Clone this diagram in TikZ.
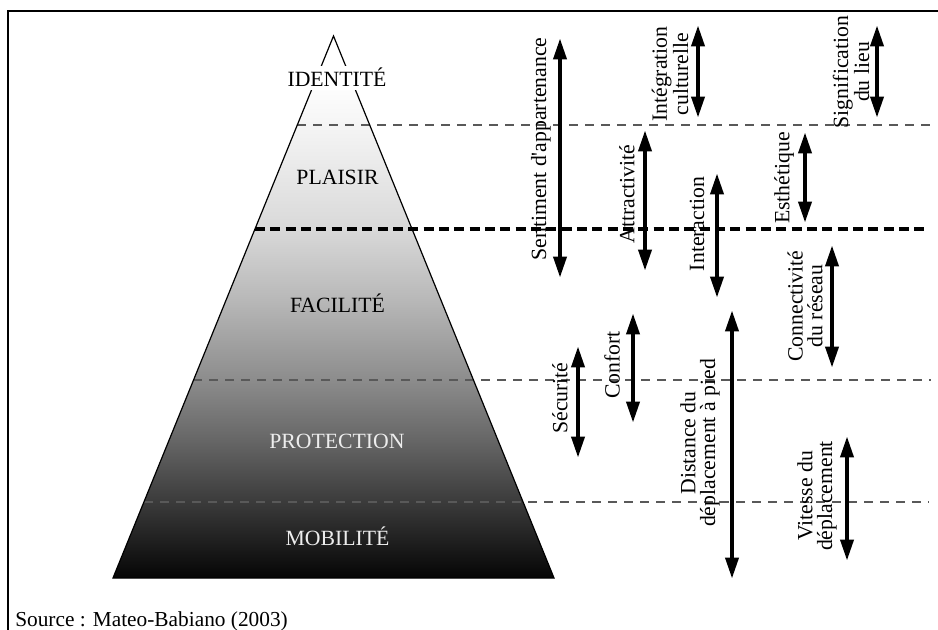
\documentclass[tikz,border=0pt]{standalone}
\usepackage{fontspec}
\setmainfont{Liberation Serif}
\usetikzlibrary{arrows.meta}
\pgfdeclareverticalshading{pyrshade}{100bp}{color(0bp)=(black); color(25bp)=(white!2!black); color(32bp)=(white!23!black); color(37.7bp)=(white!40!black); color(43.3bp)=(white!55!black); color(50.6bp)=(white!72!black); color(57.2bp)=(white!85!black); color(66.8bp)=(white!96!black); color(71bp)=(white); color(100bp)=(white)}
\tikzset{
  lbl/.style={font=\fontsize{16.3}{14.8}\selectfont, inner sep=0pt, align=center},
  vlbl/.style={lbl, rotate=90},
  lvl/.style={font=\fontsize{16.3}{18}\selectfont, inner sep=2pt},
  darr/.style={line width=3.3pt, {Triangle[length=16pt,width=9.5pt]}-{Triangle[length=16pt,width=9.5pt]}},
  thindash/.style={draw=black!65, line width=1pt, dash pattern=on 6.75pt off 5.25pt},
  thickdash/.style={draw=black, line width=3pt, dash pattern=on 7.5pt off 4pt},
  frame/.style={draw=black, line width=1.1pt},
}
\begin{document}
\begin{tikzpicture}[x=0.75pt,y=-0.75pt]
\useasboundingbox (0,0) rectangle (938,630);
% frame
\coordinate (ftr) at (938,11);
\coordinate (ftl) at (8,11);
\coordinate (fbl) at (8,630);
\draw[frame] (ftr) -- (ftl) -- (fbl);
% pyramid
\coordinate (apex) at (333.5,36);
\coordinate (bl) at (113,578);
\coordinate (br) at (554,578);
\shade[shading=pyrshade] (apex) -- (bl) -- (br) -- cycle;
% level separators
\coordinate (d1l) at (297,125);  \coordinate (d1r) at (931,125);
\coordinate (d2l) at (255,229);  \coordinate (d2r) at (927,229);
\coordinate (d3l) at (193,380);  \coordinate (d3r) at (931,380);
\coordinate (d4l) at (144,502);  \coordinate (d4r) at (929,502);
\draw[thindash] (d1l) -- (d1r);
\draw[thickdash] (d2l) -- (d2r);
\draw[thindash] (d3l) -- (d3r);
\draw[thindash] (d4l) -- (d4r);
\draw[line width=0.9pt, line join=miter] (apex) -- (bl) -- (br) -- cycle;
% level labels
\node[lvl, fill=white, anchor=base] (identite) at (337,87) {IDENTITÉ};
\node[lvl, anchor=base] (plaisir) at (337.5,185) {PLAISIR};
\node[lvl, anchor=base] (facilite) at (337.5,313) {FACILITÉ};
\node[lvl, anchor=base, text=white!93!black] (protection) at (337,448) {PROTECTION};
\node[lvl, anchor=base, text=white!93!black] (mobilite) at (337.5,545) {MOBILITÉ};
% arrows
\coordinate (a1t) at (560,38);  \coordinate (a1b) at (560,278);
\coordinate (a2t) at (698,25);  \coordinate (a2b) at (698,118);
\coordinate (a3t) at (877,25);  \coordinate (a3b) at (877,118);
\coordinate (a4t) at (645,130); \coordinate (a4b) at (645,271);
\coordinate (a5t) at (717,173); \coordinate (a5b) at (717,298);
\coordinate (a6t) at (805,132); \coordinate (a6b) at (805,223);
\coordinate (a7t) at (832,245); \coordinate (a7b) at (832,368);
\coordinate (a8t) at (578,346); \coordinate (a8b) at (578,458);
\coordinate (a9t) at (633,313); \coordinate (a9b) at (633,423);
\coordinate (a10t) at (732,310); \coordinate (a10b) at (732,579);
\coordinate (a11t) at (847,436); \coordinate (a11b) at (847,561);
\foreach \i in {1,...,11} {\draw[darr] (a\i t) -- (a\i b);}
% arrow labels
\node[vlbl] (l1) at (541,149) {Sentiment d\textquotesingle appartenance};
\node[vlbl] (l2) at (670,74) {Intégration\\culturelle};
\node[vlbl] (l3) at (851,72) {Signification\\du lieu};
\node[vlbl] (l4) at (627,194) {Attractivité};
\node[vlbl] (l5) at (697,224) {Interaction};
\node[vlbl] (l6) at (784,178) {Esthétique};
\node[vlbl] (l7) at (805,306) {Connectivité\\du réseau};
\node[vlbl] (l8) at (560,398) {Sécurité};
\node[vlbl] (l9) at (612,365) {Confort};
\node[vlbl] (l10) at (700,443) {Distance du\\déplacement à pied};
\node[vlbl] (l11) at (817,496) {Vitesse du\\déplacement};
% source
\node[font=\fontsize{16}{18}\selectfont, inner sep=0pt, anchor=base west] (source) at (15,626) {Source : Mateo-Babiano (2003)};
\end{tikzpicture}
\end{document}
